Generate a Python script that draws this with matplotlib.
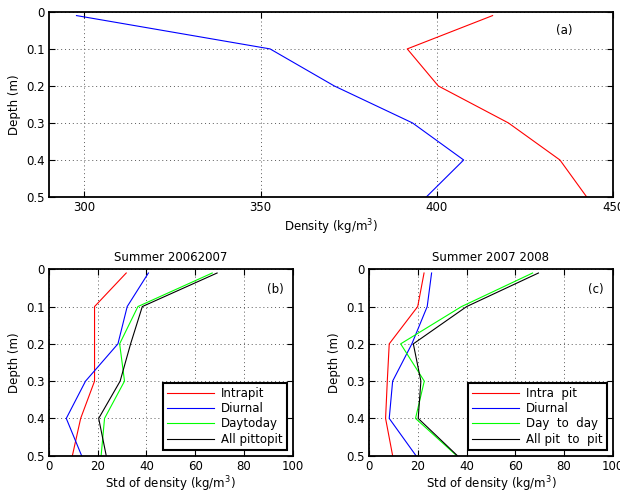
import matplotlib
matplotlib.use("Agg")
import matplotlib.pyplot as plt

# depths (m) of the sampled layers
depth = [0.01, 0.1, 0.2, 0.3, 0.4, 0.5]

# (a) mean density profiles, kg/m3
dens_red = [415.8, 391.6, 400.4, 420.3, 434.9, 442.5]
dens_blue = [297.8, 352.7, 370.9, 393.1, 407.6, 397.0]

# (b) summer 2006/2007 std of density
b_intra = [31.7, 18.7, 18.7, 18.7, 13.0, 9.6]
b_diurnal = [40.8, 32.1, 28.3, 15.0, 7.1, 13.4]
b_daytoday = [67.0, 36.5, 29.0, 31.0, 22.8, 21.4]
b_all = [69.0, 38.3, 33.5, 29.2, 20.4, 23.5]
b_labels = ["Intrapit", "Diurnal", "Daytoday", "All pittopit"]

# (c) summer 2007/2008 std of density
c_intra = [22.5, 19.9, 8.2, 7.4, 6.7, 9.6]
c_diurnal = [25.6, 23.8, 17.5, 9.6, 8.2, 19.2]
c_daytoday = [67.1, 37.9, 12.9, 22.6, 19.0, 35.9]
c_all = [69.5, 40.0, 18.1, 21.2, 20.1, 36.2]
c_labels = ["Intra  pit", "Diurnal", "Day  to  day", "All pit  to  pit"]

plt.rcParams['font.family'] = 'DejaVu Sans'
plt.rcParams['font.size'] = 8

fig = plt.figure(figsize=(6.2, 4.95), dpi=100)

def style(ax):
    # matlab look: box, inward ticks on all sides, dotted grid
    for s in ax.spines.values():
        s.set_linewidth(1.3)
    ax.tick_params(direction='in', top=True, right=True, length=4, width=0.8,
                   labelsize=8.5, pad=3)
    ax.grid(True, linestyle=(0, (1, 3)), color='0.35', linewidth=0.7)
    ax.set_ylim(0.5, 0)
    ax.set_yticks([0, 0.1, 0.2, 0.3, 0.4, 0.5])
    ax.set_yticklabels(['0', '0.1', '0.2', '0.3', '0.4', '0.5'])
    ax.set_ylabel('Depth (m)', fontsize=8.5)

# PLOT (a)
ax1 = fig.add_axes([0.079, 0.602, 0.910, 0.374])
ax1.plot(dens_red, depth, color='red', lw=0.8)
ax1.plot(dens_blue, depth, color='blue', lw=0.8)
style(ax1)
ax1.set_xlim(290, 450)
ax1.set_xticks([300, 350, 400, 450])
ax1.set_xlabel('Density (kg/m$^{3}$)', fontsize=8.5, labelpad=2)
ax1.text(436, 0.05, '(a)', fontsize=8.5, ha='center', va='center')

# PLOT (b) and (c)
panels = [
    ([0.079, 0.0794, 0.393, 0.3766], 'Summer 20062007', '(b)',
     [b_intra, b_diurnal, b_daytoday, b_all], b_labels),
    ([0.5956, 0.0794, 0.3926, 0.3766], 'Summer 2007 2008', '(c)',
     [c_intra, c_diurnal, c_daytoday, c_all], c_labels),
]
colors = ['red', 'blue', '#00ff00', 'black']
for pos, title, tag, series, labels in panels:
    ax = fig.add_axes(pos)
    for vals, col, lab in zip(series, colors, labels):
        ax.plot(vals, depth, color=col, lw=0.8, label=lab)
    style(ax)
    ax.set_xlim(0, 100)
    ax.set_xticks([0, 20, 40, 60, 80, 100])
    ax.set_xlabel('Std of density (kg/m$^{3}$)', fontsize=8.5, labelpad=1)
    ax.set_title(title, fontsize=8.5, pad=6)
    ax.text(93, 0.054, tag, fontsize=8.5, ha='center', va='center')
    leg = ax.legend(loc='lower right', bbox_to_anchor=(0.977, 0.031),
                    borderaxespad=0, fontsize=8.5, fancybox=False,
                    handlelength=4.0, handletextpad=0.6, labelspacing=0.2,
                    borderpad=0.35, framealpha=1)
    leg.get_frame().set_edgecolor('black')
    leg.get_frame().set_linewidth(1.5)

plt.savefig('out.png', dpi=100)
